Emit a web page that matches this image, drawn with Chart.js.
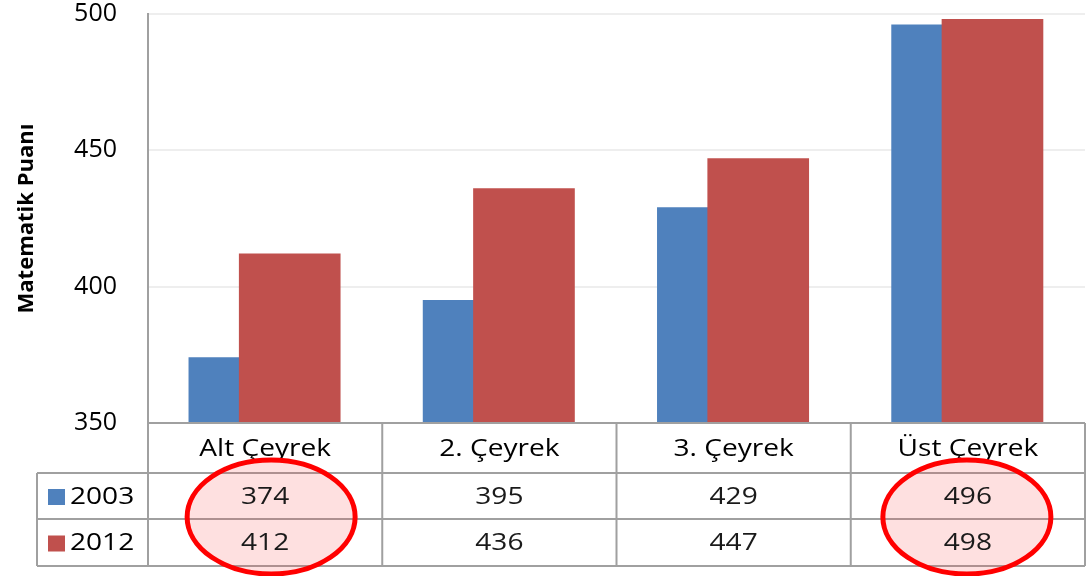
<!DOCTYPE html>
<html>
<head>
<meta charset="utf-8">
<script src="https://cdn.jsdelivr.net/npm/chart.js@4/dist/chart.umd.min.js"></script>
<style>
  html, body { margin: 0; padding: 0; background: #fff; }
  #wrap { width: 1092px; height: 576px; }
</style>
</head>
<body>
<div id="wrap"><canvas id="canvas"></canvas></div>
<script>
// veriler
var categories = ["Alt Çeyrek", "2. Çeyrek", "3. Çeyrek", "Üst Çeyrek"];
var years = ["2003", "2012"];
var values2003 = [374, 395, 429, 496];
var values2012 = [412, 436, 447, 498];
var yTicks = [350, 400, 450, 500];
var highlighted = [0, 3]; // daire içine alınan sütunlar

var BLUE = "#4f81bd";
var RED = "#c0504d";
var FONT = "'Open Sans', 'DejaVu Sans', sans-serif";

// yazıyı yatayda biraz genişleterek çiz (orijinaldeki gibi)
function wideText(ctx, text, x, y, align) {
    var k = 1.17;
    ctx.save();
    ctx.translate(x, y);
    ctx.scale(k, 1);
    ctx.textAlign = align || "center";
    ctx.fillText(text, 0, 0);
    ctx.restore();
}

// tablo (veri tablosu) eklentisi
var dataTable = {
    id: "dataTable",
    afterDraw: function (chart) {
        var ctx = chart.ctx;
        var xs = chart.scales.x;
        var area = chart.chartArea;
        var top = area.bottom;
        var rows = [top, top + 50, top + 96, top + 143];
        var legendLeft = 37;
        var edges = [];
        for (var i = 0; i <= categories.length; i++) edges.push(xs.getPixelForValue(i - 0.5));
        var centers = categories.map(function (c, i) { return xs.getPixelForValue(i); });
        var series = [values2003, values2012];
        var colors = [BLUE, RED];

        ctx.save();
        // çizgiler
        ctx.strokeStyle = "#a0a0a0";
        ctx.lineWidth = 2;
        ctx.beginPath();
        ctx.moveTo(edges[0], rows[0]); ctx.lineTo(edges[4], rows[0]);
        for (var r = 1; r < rows.length; r++) {
            ctx.moveTo(legendLeft, rows[r]); ctx.lineTo(edges[4], rows[r]);
        }
        edges.forEach(function (x) { ctx.moveTo(x, rows[0]); ctx.lineTo(x, rows[3]); });
        ctx.moveTo(legendLeft, rows[1]); ctx.lineTo(legendLeft, rows[3]);
        ctx.stroke();

        // daire dolguları (elle çizilmiş halkalar, tam ortalı değil)
        var shift = { 0: 6, 3: -1 };
        var ellipses = highlighted.map(function (i) {
            return { x: centers[i] + (shift[i] || 0), y: 517, rx: 84, ry: 57 };
        });
        ctx.fillStyle = "rgba(250, 60, 60, 0.16)";
        ellipses.forEach(function (e) {
            ctx.beginPath();
            ctx.ellipse(e.x, e.y, e.rx, e.ry, 0, 0, Math.PI * 2);
            ctx.fill();
        });

        // yazılar
        ctx.font = "24px " + FONT;
        ctx.textBaseline = "middle";
        ctx.fillStyle = "#000";
        categories.forEach(function (c, i) { wideText(ctx, c, centers[i], (rows[0] + rows[1]) / 2 + 1); });
        series.forEach(function (vals, s) {
            var cy = (rows[s + 1] + rows[s + 2]) / 2 + 1;
            ctx.fillStyle = "#1a1a1a";
            vals.forEach(function (v, i) { wideText(ctx, String(v), centers[i], cy); });
            ctx.fillStyle = colors[s];
            ctx.fillRect(48, cy - 8, 17, 16);
            ctx.fillStyle = "#000";
            wideText(ctx, years[s], 70, cy, "left");
        });

        // kırmızı halkalar
        ctx.strokeStyle = "#ff0000";
        ctx.lineWidth = 5;
        ellipses.forEach(function (e) {
            ctx.beginPath();
            ctx.ellipse(e.x, e.y, e.rx, e.ry, 0, 0, Math.PI * 2);
            ctx.stroke();
        });
        ctx.restore();
    }
};

var ctx = document.getElementById("canvas");
var myChart = new Chart(ctx, {
    type: "bar",
    data: {
        datasets: [
            {
                label: years[0],
                backgroundColor: BLUE,
                data: values2003.map(function (v, i) { return { x: i - 0.11, y: v }; }),
                order: 1
            },
            {
                label: years[1],
                backgroundColor: RED,
                data: values2012.map(function (v, i) { return { x: i + 0.105, y: v }; }),
                order: 0
            }
        ]
    },
    options: {
        responsive: true,
        maintainAspectRatio: false,
        animation: false,
        grouped: false,
        barThickness: 101,
        layout: { padding: { top: 14, right: 7, bottom: 153, left: 0 } },
        plugins: { legend: { display: false }, tooltip: { enabled: false } },
        scales: {
            x: {
                type: "linear",
                min: -0.5,
                max: 3.5,
                offset: false,
                display: false
            },
            y: {
                min: 350,
                max: 500,
                afterFit: function (scale) {
                    scale.width = 148;
                    scale.paddingTop = 0;
                    scale.paddingBottom = 0;
                },
                afterBuildTicks: function (scale) {
                    scale.ticks = yTicks.map(function (v) { return { value: v }; });
                },
                grid: { color: "#eeeeee", lineWidth: 2, drawTicks: false },
                border: { color: "#a0a0a0", width: 2 },
                ticks: { padding: 31, color: "#000", font: { family: FONT, size: 25 } },
                title: {
                    display: true,
                    text: "Matematik Puanı",
                    color: "#000",
                    padding: { top: 14, bottom: 0 },
                    font: { family: FONT, size: 22, weight: "bold" }
                }
            }
        }
    },
    plugins: [dataTable]
});
</script>
</body>
</html>
